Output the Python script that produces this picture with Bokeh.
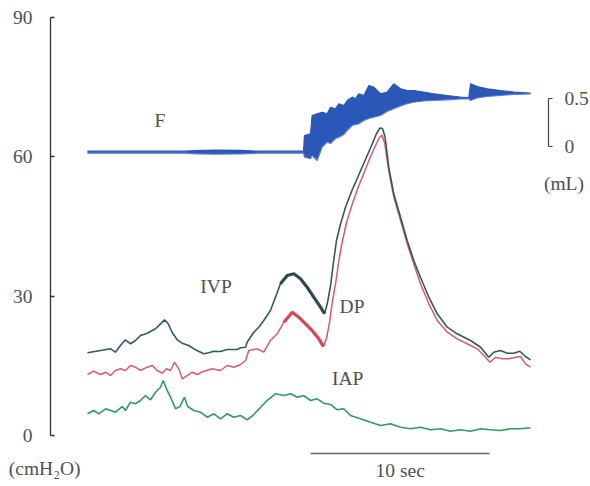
from bokeh.plotting import figure
from bokeh.models import Range1d, LinearAxis, FixedTicker, Label
from bokeh.embed import file_html
from bokeh.resources import INLINE

# ---- data (time in seconds, pressure in cmH2O, F in mL) ----
ivp_t = [0.00, 0.73, 1.29, 1.56, 1.84, 2.12, 2.40, 2.68, 2.96, 3.34, 3.80, 4.08, 4.30, 4.49,
         4.73, 5.01, 5.29, 5.66, 6.03, 6.50, 6.78, 7.06, 7.43, 7.80, 8.36, 8.55, 8.83, 8.92,
         9.29, 9.57, 9.85, 10.22, 10.50, 10.78, 11.16, 11.53, 11.90, 12.27, 12.64, 13.02,
         13.24, 13.41, 13.58, 13.74, 13.91, 14.13, 14.41, 14.75, 15.14, 15.53, 15.87, 16.15,
         16.34, 16.48, 16.62, 16.83, 17.11, 17.49, 17.86, 18.23, 18.60, 19.07, 19.54, 20.10,
         20.65, 21.40, 21.96, 22.42, 22.70, 23.07, 23.45, 23.82, 24.15, 24.47, 24.75]
ivp = [17.81, 18.30, 18.67, 17.94, 19.38, 20.61, 19.75, 20.46, 21.53, 22.03, 22.98, 24.05, 24.91, 24.18,
       22.24, 20.61, 19.88, 19.38, 18.45, 17.59, 17.81, 18.15, 18.09, 18.52, 18.52, 18.88, 19.01, 20.09,
       22.24, 23.32, 24.76, 26.92, 29.78, 32.67, 34.45, 34.82, 33.74, 31.93, 29.78, 27.63,
       26.21, 28.64, 32.30, 37.25, 41.99, 45.43, 49.10, 52.54, 55.99, 59.43, 62.45, 65.03,
       66.21, 66.11, 64.38, 57.77, 52.05, 47.01, 41.99, 37.68, 34.09, 29.78, 26.21, 23.32,
       21.90, 20.46, 19.01, 16.86, 17.94, 18.30, 17.72, 17.72, 18.15, 17.01, 16.30]

dp_t = [0.00, 0.35, 0.73, 1.01, 1.29, 1.56, 1.84, 2.12, 2.40, 2.68, 2.96, 3.34, 3.62, 3.89,
        4.17, 4.41, 4.64, 4.86, 5.10, 5.29, 5.57, 5.85, 6.13, 6.50, 6.97, 7.43, 7.80, 8.17,
        8.55, 8.83, 9.01, 9.48, 9.85, 10.22, 10.60, 10.97, 11.44, 11.80, 12.18, 12.55, 12.92,
        13.18, 13.35, 13.52, 13.69, 13.86, 14.02, 14.19, 14.47, 14.80, 15.14, 15.48, 15.81,
        16.09, 16.31, 16.45, 16.61, 16.83, 17.11, 17.49, 17.86, 18.23, 18.60, 19.07, 19.54,
        20.10, 20.65, 21.21, 21.77, 22.14, 22.48, 22.79, 23.17, 23.54, 23.91, 24.19, 24.47, 24.75]
dp = [13.14, 13.85, 13.14, 13.63, 12.92, 14.00, 14.36, 14.00, 15.07, 14.71, 14.00, 14.71, 15.07, 14.00,
      13.42, 14.36, 14.00, 15.78, 14.36, 12.21, 12.92, 13.63, 13.14, 13.85, 14.36, 14.00, 15.07, 14.71,
      15.29, 16.15, 18.30, 18.67, 17.94, 20.46, 21.90, 24.40, 26.55, 25.47, 24.05, 22.61, 20.82,
      19.16, 20.89, 24.33, 29.07, 32.73, 37.04, 40.91, 45.87, 49.96, 53.62, 56.85, 60.08,
      62.45, 64.17, 64.71, 62.81, 57.06, 51.31, 46.30, 41.28, 36.97, 32.67, 28.36, 24.76,
      22.24, 20.82, 19.75, 18.67, 17.23, 15.78, 16.86, 16.52, 16.52, 16.86, 17.01, 15.44, 14.71]

iap_t = [0.00, 0.35, 0.63, 1.01, 1.29, 1.56, 1.94, 2.12, 2.40, 2.68, 2.96, 3.24, 3.52, 3.80,
         4.08, 4.23, 4.41, 4.64, 4.92, 5.16, 5.42, 5.60, 5.94, 6.31, 6.69, 7.06, 7.43, 7.80,
         8.17, 8.55, 8.92, 9.29, 9.67, 10.04, 10.50, 10.97, 11.34, 11.72, 12.08, 12.46, 12.83,
         13.20, 13.58, 13.95, 14.32, 14.69, 15.25, 15.81, 16.37, 16.93, 17.49, 18.05, 18.60,
         19.16, 19.72, 20.28, 20.84, 21.40, 21.96, 22.51, 23.07, 23.63, 24.19, 24.75]
iap = [4.67, 5.38, 4.67, 5.75, 5.38, 5.02, 6.24, 5.38, 7.17, 6.83, 7.54, 8.61, 7.69, 9.32,
       10.40, 11.84, 10.06, 8.25, 5.75, 6.24, 8.25, 6.24, 5.38, 5.02, 3.94, 4.67, 3.60, 4.67,
       3.94, 4.31, 3.38, 4.52, 6.09, 7.54, 8.98, 8.61, 8.98, 8.25, 8.61, 7.54, 7.90,
       6.96, 6.68, 5.53, 5.75, 4.31, 3.60, 2.86, 2.15, 2.52, 1.79, 1.44, 1.79,
       1.23, 1.44, 0.93, 1.23, 0.93, 1.44, 1.23, 1.08, 1.44, 1.44, 1.66]

f_t = [0.00, 5.48, 6.03, 7.15, 8.55, 9.55, 12.07, 12.12, 12.46, 12.55, 12.83, 13.11, 13.39,
       13.58, 13.86, 14.04, 14.32, 14.51, 14.79, 14.97, 15.16, 15.44, 15.72, 15.99, 16.37,
       16.74, 17.11, 17.49, 17.86, 18.23, 18.79, 19.35, 20.10, 20.84, 21.30, 21.40, 21.77,
       22.33, 23.07, 23.82, 24.75]
f_hi = [-0.049, -0.049, -0.042, -0.038, -0.040, -0.049, -0.049, 0.115, 0.132, 0.323, 0.341, 0.357, 0.341,
        0.409, 0.393, 0.445, 0.427, 0.479, 0.514, 0.497, 0.549, 0.531, 0.635, 0.618, 0.549,
        0.566, 0.653, 0.601, 0.583, 0.583, 0.566, 0.549, 0.531, 0.514, 0.507, 0.653, 0.625,
        0.601, 0.583, 0.566, 0.555]
f_lo = [-0.070, -0.070, -0.076, -0.080, -0.078, -0.070, -0.070, -0.111, -0.128, -0.094, -0.146, -0.007, 0.045,
        0.031, 0.083, 0.097, 0.125, 0.167, 0.219, 0.229, 0.236, 0.271, 0.292, 0.305, 0.323,
        0.365, 0.393, 0.422, 0.445, 0.461, 0.474, 0.479, 0.486, 0.495, 0.497, 0.479, 0.505,
        0.521, 0.531, 0.542, 0.547]

press_ticks = [0, 30, 60, 90]
ml_ticks = [0, 0.5]
scale_t = [12.46, 22.46]   # 10 sec scale bar
scale_level = -3.88

FONT = "Liberation Serif"
TXT = "#505050"

p = figure(width=590, height=486, output_backend="svg", toolbar_location=None,
           x_range=Range1d(-4.860, 28.101), y_range=Range1d(-10.98, 93.67),
           x_axis_location=None, y_axis_location="left", min_border=0)
p.outline_line_color = None
p.grid.visible = False
p.background_fill_color = "white"
p.border_fill_color = "white"

# pressure axis (drawn at a fixed place inside the plot)
ya = p.yaxis[0]
ya.fixed_location = -2.067
ya.ticker = FixedTicker(ticks=press_ticks)
ya.bounds = (0, 90)
ya.axis_line_color = "#333333"
ya.axis_line_width = 1.3
ya.major_tick_line_color = "#333333"
ya.major_tick_line_width = 1.3
ya.major_tick_in = 4
ya.major_tick_out = 0
ya.minor_tick_line_color = None
ya.major_label_standoff = 18
ya.major_label_text_font = FONT
ya.major_label_text_font_size = "19.5px"
ya.major_label_text_color = TXT

# volume scale bracket
p.extra_y_ranges = {"ml": Range1d(-3.5417, 1.5208)}
ra = LinearAxis(y_range_name="ml", ticker=FixedTicker(ticks=ml_ticks), bounds=(0, 0.5),
                fixed_location=25.754)
ra.axis_line_color = "#444444"
ra.axis_line_width = 1.2
ra.major_tick_line_color = "#444444"
ra.major_tick_line_width = 1.2
ra.major_tick_in = 0
ra.major_tick_out = 4
ra.minor_tick_line_color = None
ra.major_label_standoff = 12
ra.major_label_text_font = FONT
ra.major_label_text_font_size = "19.5px"
ra.major_label_text_color = TXT
ra.major_label_overrides = {0: "0", 0.5: "0.5"}
p.add_layout(ra, "right")

# F trace (band of the rapidly oscillating signal)
p.varea(x=f_t, y1=f_lo, y2=f_hi, fill_color="#2b57b9", y_range_name="ml")
p.line(f_t, f_hi, line_color="#2b57b9", line_width=1.2, y_range_name="ml")
p.line(f_t, f_lo, line_color="#5d7fd0", line_width=1.2, y_range_name="ml")

# pressure traces
p.line(iap_t, iap, line_color="#2f9a5c", line_width=1.6)
p.line(dp_t, dp, line_color="#d85a6e", line_width=1.5)
p.line(dp_t[35:42], dp[35:42], line_color="#e2424f", line_width=3.2)
p.line(ivp_t, ivp, line_color="#33595f", line_width=1.6)
p.line(ivp_t[33:41], ivp[33:41], line_color="#2c4c52", line_width=3.2)

# 10 sec scale bar
p.line(scale_t, [scale_level, scale_level], line_color="#666666", line_width=1.4)

def lab(x, y, text, align="center"):
    p.add_layout(Label(x=x, y=y, text=text, text_font=FONT, text_font_size="19.5px",
                       text_color=TXT, text_align=align, text_baseline="middle"))

lab(4.05, 67.83, "F")
lab(7.18, 32.19, "IVP")
lab(14.78, 27.78, "DP")
lab(14.54, 12.27, "IAP")
lab(17.47, -7.54, "10 sec")
lab(-4.40, -7.11, "(cmH\u2082O)", align="left")
lab(26.62, 54.16, "(mL)")

open("out.html", "w").write(file_html(p, INLINE))
